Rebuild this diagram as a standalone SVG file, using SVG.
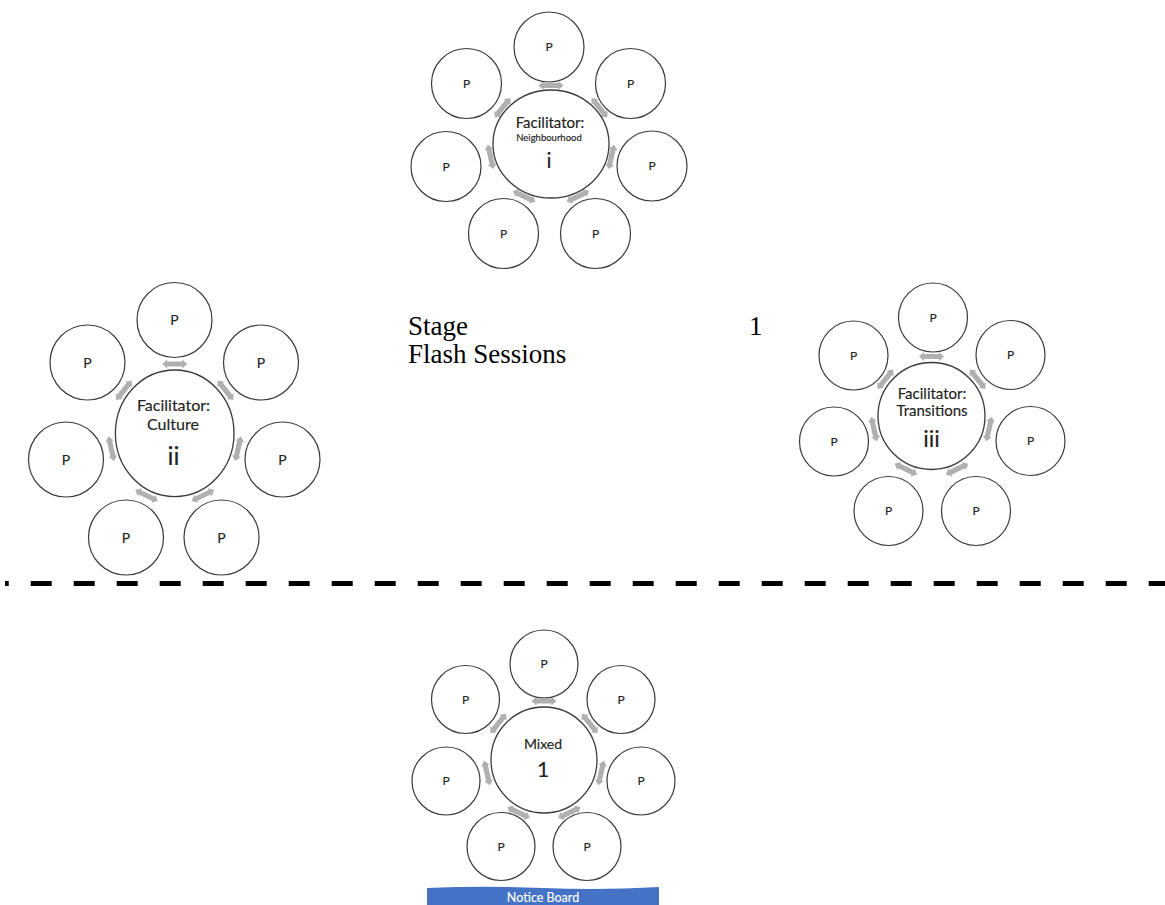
<svg xmlns="http://www.w3.org/2000/svg" xmlns:xlink="http://www.w3.org/1999/xlink" width="1165" height="905" viewBox="0 0 1165 905">
<style>
.p{fill:#fff;stroke:#3a3a3a;stroke-width:1.2}
.c{fill:#fff;stroke:#3a3a3a;stroke-width:1.3}
.t{font-family:Lato,"Open Sans",sans-serif;fill:#222;stroke:#222;stroke-width:0.15;text-anchor:middle}
.s{font-family:"Liberation Serif","Times New Roman",serif;font-size:27px;fill:#000}
.ar{fill:#b0b0b0}
</style>
<defs>
<path id="dar" class="ar" d="M-12.5,0 L-7.5,-4.5 L-7.5,-2.6 L7.5,-2.6 L7.5,-4.5 L12.5,0 L7.5,4.5 L7.5,2.6 L-7.5,2.6 L-7.5,4.5 Z"/>
</defs>
<rect width="1165" height="905" fill="#fff"/>

<g id="connectors">
<use xlink:href="#dar" transform="translate(551,85.5) rotate(0)"/>
<use xlink:href="#dar" transform="translate(599.5,107.8) rotate(51.4)"/>
<use xlink:href="#dar" transform="translate(611.4,156.9) rotate(102.9)"/>
<use xlink:href="#dar" transform="translate(577.9,196.3) rotate(154.3)"/>
<use xlink:href="#dar" transform="translate(524.1,196.3) rotate(25.7)"/>
<use xlink:href="#dar" transform="translate(490.6,156.9) rotate(77.1)"/>
<use xlink:href="#dar" transform="translate(502.5,107.8) rotate(128.6)"/>
<use xlink:href="#dar" transform="translate(174.7,364) rotate(0)"/>
<use xlink:href="#dar" transform="translate(225.5,390.3) rotate(51.4)"/>
<use xlink:href="#dar" transform="translate(238.1,448.7) rotate(102.9)"/>
<use xlink:href="#dar" transform="translate(202.9,495.5) rotate(154.3)"/>
<use xlink:href="#dar" transform="translate(146.5,495.5) rotate(25.7)"/>
<use xlink:href="#dar" transform="translate(111.3,448.7) rotate(77.1)"/>
<use xlink:href="#dar" transform="translate(123.9,390.3) rotate(128.6)"/>
<use xlink:href="#dar" transform="translate(931.5,356.5) rotate(0)"/>
<use xlink:href="#dar" transform="translate(977.6,379.2) rotate(51.4)"/>
<use xlink:href="#dar" transform="translate(989,429.1) rotate(102.9)"/>
<use xlink:href="#dar" transform="translate(957.1,469.2) rotate(154.3)"/>
<use xlink:href="#dar" transform="translate(905.9,469.2) rotate(25.7)"/>
<use xlink:href="#dar" transform="translate(874,429.1) rotate(77.1)"/>
<use xlink:href="#dar" transform="translate(885.4,379.2) rotate(128.6)"/>
<use xlink:href="#dar" transform="translate(544,701) rotate(0)"/>
<use xlink:href="#dar" transform="translate(589.7,723.5) rotate(51.4)"/>
<use xlink:href="#dar" transform="translate(601,773) rotate(102.9)"/>
<use xlink:href="#dar" transform="translate(569.4,812.7) rotate(154.3)"/>
<use xlink:href="#dar" transform="translate(518.6,812.7) rotate(25.7)"/>
<use xlink:href="#dar" transform="translate(487,773) rotate(77.1)"/>
<use xlink:href="#dar" transform="translate(498.3,723.5) rotate(128.6)"/>
</g>

<g id="fac-neighbourhood">
<ellipse class="c" cx="551" cy="144" rx="58" ry="54"/>
<text class="t" x="550" y="128" font-size="15">Facilitator:</text>
<text class="t" x="549" y="141" font-size="9.5">Neighbourhood</text>
<text class="t" x="549" y="168" font-size="21">i</text>
</g>
<g id="n1-p1"><circle class="p" cx="549" cy="47" r="35"/><text class="t" x="549" y="51" font-size="12">P</text></g>
<g id="n1-p2"><circle class="p" cx="630.5" cy="83.5" r="35"/><text class="t" x="630.5" y="87.5" font-size="12">P</text></g>
<g id="n1-p3"><circle class="p" cx="652" cy="166" r="35"/><text class="t" x="652" y="170" font-size="12">P</text></g>
<g id="n1-p4"><circle class="p" cx="595.5" cy="233.5" r="35"/><text class="t" x="595.5" y="237.5" font-size="12">P</text></g>
<g id="n1-p5"><circle class="p" cx="503.5" cy="233.5" r="35"/><text class="t" x="503.5" y="237.5" font-size="12">P</text></g>
<g id="n1-p6"><circle class="p" cx="446" cy="166.5" r="35"/><text class="t" x="446" y="170.5" font-size="12">P</text></g>
<g id="n1-p7"><circle class="p" cx="466.5" cy="83.5" r="35"/><text class="t" x="466.5" y="87.5" font-size="12">P</text></g>

<g id="fac-culture">
<ellipse class="c" cx="174.7" cy="433.3" rx="59.3" ry="63.3"/>
<text class="t" x="173.5" y="411" font-size="16">Facilitator:</text>
<text class="t" x="173" y="430" font-size="16">Culture</text>
<text class="t" x="173.5" y="465" font-size="25">ii</text>
</g>
<g id="n2-p1"><circle class="p" cx="174.5" cy="320" r="37.5"/><text class="t" x="174.5" y="325" font-size="14">P</text></g>
<g id="n2-p2"><circle class="p" cx="261" cy="362.5" r="37.5"/><text class="t" x="261" y="367.5" font-size="14">P</text></g>
<g id="n2-p3"><circle class="p" cx="282.5" cy="459.5" r="37.5"/><text class="t" x="282.5" y="464.5" font-size="14">P</text></g>
<g id="n2-p4"><circle class="p" cx="221.5" cy="537.5" r="37.5"/><text class="t" x="221.5" y="542.5" font-size="14">P</text></g>
<g id="n2-p5"><circle class="p" cx="126" cy="537.5" r="37.5"/><text class="t" x="126" y="542.5" font-size="14">P</text></g>
<g id="n2-p6"><circle class="p" cx="66" cy="459.5" r="37.5"/><text class="t" x="66" y="464.5" font-size="14">P</text></g>
<g id="n2-p7"><circle class="p" cx="87.5" cy="362.5" r="37.5"/><text class="t" x="87.5" y="367.5" font-size="14">P</text></g>

<g id="fac-transitions">
<circle class="c" cx="931.5" cy="416" r="53.5"/>
<text class="t" x="932" y="399" font-size="15">Facilitator:</text>
<text class="t" x="932" y="416" font-size="15">Transitions</text>
<text class="t" x="931.5" y="447" font-size="23">iii</text>
</g>
<g id="n3-p1"><circle class="p" cx="933" cy="317.5" r="34.5"/><text class="t" x="933" y="321.5" font-size="12">P</text></g>
<g id="n3-p2"><circle class="p" cx="1010.5" cy="355" r="34.5"/><text class="t" x="1010.5" y="359" font-size="12">P</text></g>
<g id="n3-p3"><circle class="p" cx="1030.5" cy="441" r="34.5"/><text class="t" x="1030.5" y="445" font-size="12">P</text></g>
<g id="n3-p4"><circle class="p" cx="976" cy="511" r="34.5"/><text class="t" x="976" y="515" font-size="12">P</text></g>
<g id="n3-p5"><circle class="p" cx="888.5" cy="511" r="34.5"/><text class="t" x="888.5" y="515" font-size="12">P</text></g>
<g id="n3-p6"><circle class="p" cx="834" cy="441.5" r="34.5"/><text class="t" x="834" y="445.5" font-size="12">P</text></g>
<g id="n3-p7"><circle class="p" cx="853.5" cy="355.5" r="34.5"/><text class="t" x="853.5" y="359.5" font-size="12">P</text></g>

<g id="mixed">
<circle class="c" cx="544" cy="760" r="53"/>
<text class="t" x="543" y="749" font-size="14">Mixed</text>
<text class="t" x="543" y="777" font-size="21">1</text>
</g>
<g id="n4-p1"><circle class="p" cx="544" cy="664" r="34"/><text class="t" x="544" y="668" font-size="12">P</text></g>
<g id="n4-p2"><circle class="p" cx="621" cy="699.5" r="34"/><text class="t" x="621" y="703.5" font-size="12">P</text></g>
<g id="n4-p3"><circle class="p" cx="641" cy="781" r="34"/><text class="t" x="641" y="785" font-size="12">P</text></g>
<g id="n4-p4"><circle class="p" cx="587" cy="846.5" r="34"/><text class="t" x="587" y="850.5" font-size="12">P</text></g>
<g id="n4-p5"><circle class="p" cx="501" cy="846.5" r="34"/><text class="t" x="501" y="850.5" font-size="12">P</text></g>
<g id="n4-p6"><circle class="p" cx="446" cy="781" r="34"/><text class="t" x="446" y="785" font-size="12">P</text></g>
<g id="n4-p7"><circle class="p" cx="465.5" cy="699.5" r="34"/><text class="t" x="465.5" y="703.5" font-size="12">P</text></g>

<g id="title">
<text class="s" x="408" y="335">Stage</text>
<text class="s" x="749" y="335">1</text>
<text class="s" x="408" y="363">Flash Sessions</text>
</g>

<line x1="5" y1="583.5" x2="1165" y2="583.5" stroke="#000" stroke-width="5" stroke-dasharray="21 22" stroke-dashoffset="17.3"/>

<g id="notice-board">
<path d="M427,888 Q485,885.5 543,888 T659,887 L659,905 L427,905 Z" fill="#4472c4"/>
<text x="543" y="902" font-family="Lato,'Open Sans',sans-serif" font-size="12.5" fill="#fff" stroke="#fff" stroke-width="0.15" text-anchor="middle">Notice Board</text>
</g>
</svg>
